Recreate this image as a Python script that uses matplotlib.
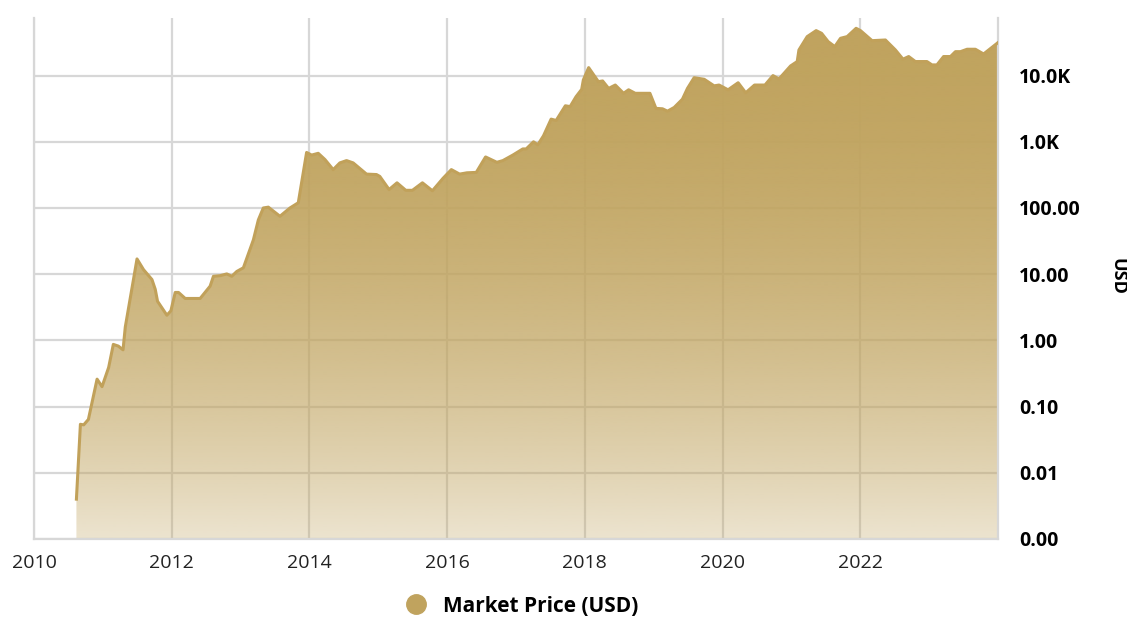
import matplotlib
matplotlib.use('Agg')
import matplotlib.pyplot as plt
import numpy as np
from matplotlib.lines import Line2D
from matplotlib.patches import Polygon

plt.rcParams['font.family'] = ['Open Sans', 'DejaVu Sans']

# Market price (decimal year, USD)
years = [2010.616, 2010.674, 2010.722, 2010.790, 2010.916, 2010.988, 2011.084, 2011.152,
         2011.225, 2011.293, 2011.326, 2011.496, 2011.591, 2011.713, 2011.761, 2011.794,
         2011.930, 2011.988, 2012.051, 2012.099, 2012.196, 2012.413, 2012.558, 2012.606,
         2012.703, 2012.800, 2012.872, 2012.945, 2013.041, 2013.186, 2013.258, 2013.330,
         2013.403, 2013.500, 2013.572, 2013.717, 2013.838, 2013.959, 2014.032, 2014.128,
         2014.225, 2014.345, 2014.442, 2014.539, 2014.635, 2014.829, 2014.974, 2015.022,
         2015.157, 2015.272, 2015.399, 2015.496, 2015.641, 2015.786, 2015.939, 2016.061,
         2016.181, 2016.287, 2016.423, 2016.558, 2016.722, 2016.809, 2016.954, 2017.099,
         2017.148, 2017.254, 2017.316, 2017.399, 2017.510, 2017.583, 2017.717, 2017.786,
         2017.872, 2017.954, 2017.978, 2018.055, 2018.113, 2018.196, 2018.258, 2018.345,
         2018.442, 2018.562, 2018.635, 2018.732, 2018.945, 2019.032, 2019.128, 2019.200,
         2019.297, 2019.417, 2019.490, 2019.587, 2019.733, 2019.877, 2019.949, 2020.080,
         2020.226, 2020.336, 2020.464, 2020.616, 2020.732, 2020.819, 2020.988, 2021.084,
         2021.109, 2021.229, 2021.359, 2021.438, 2021.533, 2021.630, 2021.713, 2021.809,
         2021.939, 2022.003, 2022.171, 2022.365, 2022.510, 2022.620, 2022.703, 2022.800,
         2022.968, 2023.041, 2023.113, 2023.210, 2023.310, 2023.382, 2023.455, 2023.551,
         2023.671, 2023.791, 2024.000]
prices = [0.004, 0.054, 0.053, 0.064, 0.26, 0.20, 0.39, 0.87,
          0.82, 0.72, 1.6, 17, 11.7, 8.3, 5.9, 3.9,
          2.4, 2.8, 5.3, 5.3, 4.3, 4.3, 6.6, 9.3,
          9.5, 10.1, 9.3, 11, 12.5, 33, 66, 100,
          103, 86, 75, 100, 120, 690, 630, 670,
          540, 380, 480, 520, 480, 325, 320, 300,
          190, 240, 185, 185, 240, 182, 280, 380,
          325, 340, 345, 590, 490, 520, 630, 780,
          780, 1000, 900, 1230, 2200, 2100, 3500, 3400,
          4800, 6200, 8600, 13200, 10800, 8100, 8300, 6400,
          7200, 5400, 6100, 5400, 5400, 3200, 3150, 2900,
          3300, 4400, 6400, 9300, 8800, 7000, 7200, 6100,
          7800, 5500, 7200, 7200, 10000, 8900, 14000, 16300,
          24400, 38800, 47800, 43500, 32600, 27400, 36600, 38800,
          51800, 47800, 33700, 34500, 24400, 17700, 19400, 16300,
          16300, 14500, 14500, 19400, 19400, 23000, 23000, 25000,
          25000, 21200, 31500]

x_ticks = [2010, 2012, 2014, 2016, 2018, 2020, 2022]
y_ticks = [1e-3, 1e-2, 1e-1, 1, 10, 100, 1e3, 1e4]
y_labels = ['0.00', '0.01', '0.10', '1.00', '10.00', '100.00', '1.0K', '10.0K']

gold = '#c0a35e'
line_col = '#c1a15a'
grid_col = '#d7d7d7'

fig = plt.figure(figsize=(11.27, 6.17), dpi=100)
ax = fig.add_axes([34 / 1127, 1 - 539 / 617, 964 / 1127, 521 / 617])
ax.set_yscale('log')
ax.set_xlim(2010, 2024)
ax.set_ylim(1e-3, 10 ** 4.87)

# gradient fill: solid at top, fading towards the bottom, clipped to the area under the curve
verts = [(years[0], 1e-3)] + list(zip(years, prices)) + [(years[-1], 1e-3)]
poly = Polygon(verts, closed=True, facecolor='none', edgecolor='none', transform=ax.transData)
ax.add_patch(poly)
t = np.linspace(0, 1, 256).reshape(-1, 1)
rgba = np.zeros((256, 1, 4))
rgba[..., :3] = matplotlib.colors.to_rgb(gold)
rgba[..., 3] = 1 - 0.7 * (1 - t) ** 2
im = ax.imshow(rgba, extent=[0, 1, 0, 1], transform=ax.transAxes, origin='lower',
               aspect='auto', zorder=2, interpolation='bilinear')
im.set_clip_path(poly)
ax.plot(years, prices, color=line_col, lw=2.2, zorder=3, solid_joinstyle='round')

ax.set_xlim(2010, 2024)
ax.set_ylim(1e-3, 10 ** 4.87)

ax.set_xticks(x_ticks)
ax.set_xticklabels([str(y) for y in x_ticks], fontsize=14, color='#222222')
ax.set_yticks(y_ticks)
ax.set_yticklabels(y_labels, fontsize=14, fontweight='bold')
ax.yaxis.set_minor_locator(matplotlib.ticker.NullLocator())
ax.yaxis.tick_right()
ax.tick_params(axis='y', length=0, pad=15)
ax.tick_params(axis='x', length=0, pad=11)

ax.grid(True, color=grid_col, lw=1.6, zorder=1)
ax.set_axisbelow(True)
for side in ['left', 'right', 'bottom']:
    ax.spines[side].set_color(grid_col)
    ax.spines[side].set_linewidth(1.6)
ax.spines['top'].set_visible(False)

fig.text(1118 / 1127, 1 - 276 / 617, 'USD', rotation=270, ha='center', va='center',
         fontsize=13, fontweight='bold')

handle = Line2D([], [], marker='o', color=gold, linestyle='none', markersize=14)
fig.legend([handle], ['Market Price (USD)'], loc='center',
           bbox_to_anchor=(517 / 1127, 1 - 606 / 617), frameon=False,
           prop={'size': 15, 'weight': 'bold'}, handletextpad=0.3, borderpad=0)

fig.savefig('out.png', dpi=100)
